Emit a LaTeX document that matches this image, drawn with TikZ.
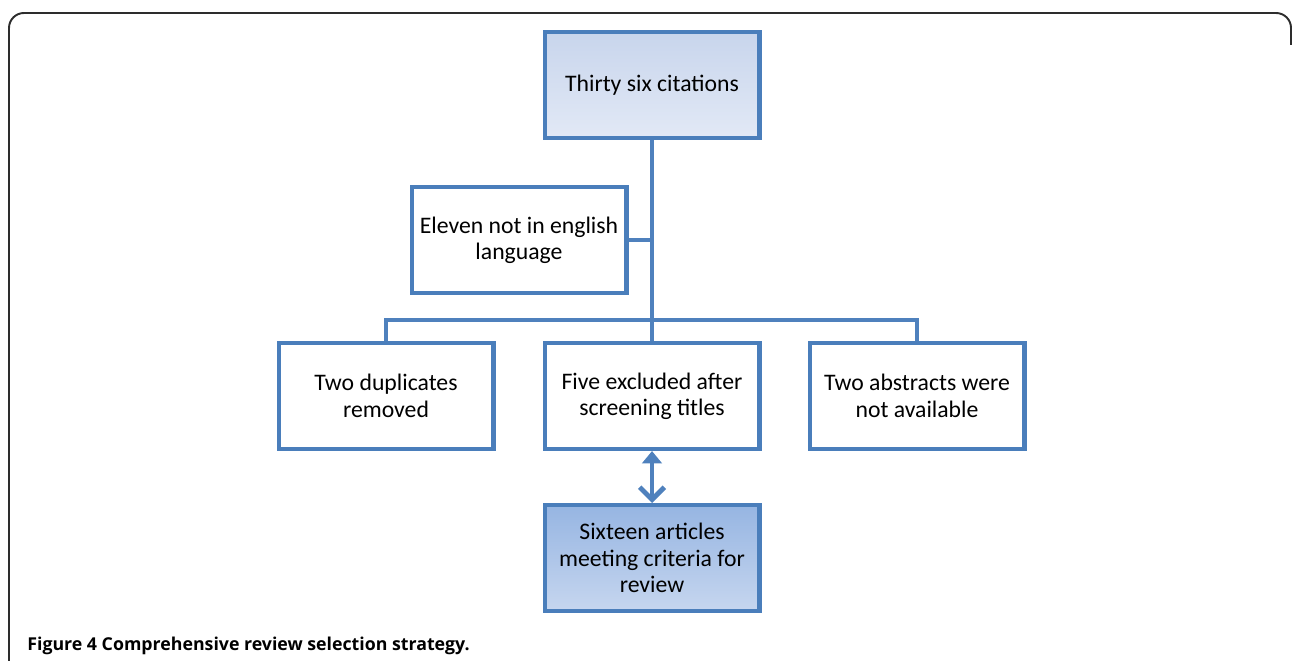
\documentclass[tikz,border=0pt]{standalone}
\usepackage{fontspec}
\setmainfont{Carlito}
\newfontfamily\capfont{Open Sans}
\usetikzlibrary{arrows.meta,shadows}
\definecolor{boxline}{RGB}{74,126,187}
\definecolor{linkblue}{RGB}{79,129,189}
\definecolor{framegray}{RGB}{45,45,45}
\tikzset{
  >=latex,
}
\tikzstyle{box}=[draw=boxline,line width=2.3pt,fill=white,minimum width=4.3cm,minimum height=2.12cm,align=center,font=\fontsize{13.5}{15}\selectfont,drop shadow={shadow xshift=.6pt,shadow yshift=-.8pt,opacity=.25}]
\tikzstyle{palebox}=[box,top color={rgb,255:red,200;green,213;blue,236},bottom color={rgb,255:red,226;green,233;blue,246}]
\tikzstyle{deepbox}=[box,top color={rgb,255:red,150;green,181;blue,226},bottom color={rgb,255:red,198;green,214;blue,239}]
\tikzstyle{link}=[draw=linkblue,line width=1.8pt]
\tikzstyle{bothway}=[draw=linkblue,line width=2.8pt,{Triangle[length=7pt,width=11pt]}-{Straight Barb[length=7pt,width=14pt]}]

\begin{document}
\begin{tikzpicture}[x=0.02cm,y=-0.02cm]
    \useasboundingbox (0,0) rectangle (1293,661);
    \draw[framegray,line width=1.1pt,rounded corners=0.3cm] (9,661)--(9,13)--(1291,13)--(1291,45);
    \node[palebox] (citations) at (652,85) {Thirty six citations};
    \node[box] (english) at (519,240) {Eleven not in english\\language};
    \node[box] (duplicates) at (386,396) {Two duplicates\\removed};
    \node[box] (titles) at (652,396) {Five excluded after\\screening titles};
    \node[box] (abstracts) at (917,396) {Two abstracts were\\not available};
    \node[deepbox] (review) at (652,558) {Sixteen articles\\meeting criteria for\\review};
    \coordinate (split) at (652,320);
    \draw[link] (citations) -- (titles);
    \draw[link] (english.east) -- (english.east -| citations.south);
    \draw[link] (duplicates.north) |- (split) -| (abstracts.north);
    \draw[bothway] (titles.south) -- (review.north);
    \node[anchor=base west,inner sep=0pt,font=\capfont\bfseries\fontsize{10.1}{12}\selectfont] (caption) at (27,650) {Figure 4 Comprehensive review selection strategy.};
\end{tikzpicture}
\end{document}
